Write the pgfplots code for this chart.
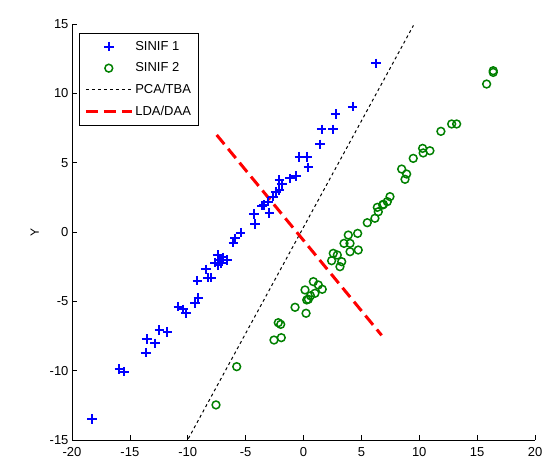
\documentclass[border=0pt]{standalone}
\usepackage{fontspec}
\setmainfont{Liberation Sans}
\usepackage{pgfplots}
\pgfplotsset{compat=1.18}
\definecolor{mgreen}{RGB}{0,128,0}
\begin{document}
\begin{tikzpicture}
\begin{axis}[
  scale only axis, width=463pt, height=416pt,
  xmin=-20, xmax=20, ymin=-15, ymax=15,
  axis lines=left, axis line style={-, line width=0.6pt},
  tick align=inside, major tick length=5pt,
  tick style={line width=0.6pt, black},
  xtick={-20,-15,...,20}, ytick={-15,-10,...,15},
  /pgf/number format/assume math mode=true,
  tick label style={font=\fontsize{13}{15}\selectfont},
  xticklabel style={yshift=-4pt},
  ylabel={Y}, ylabel style={font=\fontsize{12}{14}\selectfont, yshift=4pt},
  legend style={at={(0,1)}, anchor=north west, xshift=7pt, yshift=-9pt,
    font=\fontsize{13}{15}\selectfont, draw=black, line width=0.6pt,
    inner xsep=5pt, inner ysep=6pt, row sep=7pt},
  legend cell align=left,
  legend image code/.code={\draw[mark repeat=2,mark phase=2,#1] plot coordinates {(0pt,0pt) (23pt,0pt) (46pt,0pt)};},
]
\addplot[only marks, mark=+, mark size=4.8pt, color=blue, line width=2pt] coordinates {
(-18.26,-13.48) (-15.9,-9.88) (-15.5,-10.07) (-13.63,-8.7) (-13.54,-7.71)
(-12.85,-8.03) (-12.45,-7.07) (-11.76,-7.19) (-10.81,-5.38) (-10.38,-5.58)
(-10.15,-5.86) (-9.37,-5.14) (-9.08,-4.78) (-9.17,-3.51) (-8.42,-2.69)
(-8.27,-3.29) (-7.99,-3.29) (-7.41,-1.66) (-7.36,-2.38) (-7.64,-2.21)
(-7.3,-2.02) (-6.92,-1.83) (-6.63,-2.02) (-7.1,-2.25) (-6.06,-0.77)
(-5.91,-0.46) (-5.43,-0.05) (-4.27,1.30) (-4.19,0.58) (-3.39,1.95)
(-2.95,1.39) (-3.04,2.19) (-3.6,1.9) (-2.61,2.55) (-2.37,2.91)
(-2.09,3.03) (-1.88,3.44) (-2.09,3.75) (-1.17,3.87) (-0.65,4.04)
(0.42,4.66) (-0.36,5.43) (0.28,5.43) (1.42,6.32) (1.57,7.4)
(2.57,7.4) (2.78,8.51) (4.25,9.04) (6.26,12.16)
};
\addlegendentry{SINIF 1}
\addplot[only marks, mark=o, mark size=3.9pt, color=mgreen, line width=1.5pt] coordinates {
(-7.56,-12.47) (-5.77,-9.71) (-2.55,-7.79) (-1.92,-7.62) (-2.18,-6.54)
(-1.97,-6.66) (-0.73,-5.43) (0.22,-5.86) (0.28,-4.9) (0.13,-4.18)
(0.42,-4.85) (0.85,-3.58) (0.6,-4.6) (1.28,-3.82) (1.62,-4.13)
(0.99,-4.42) (2.43,-2.07) (2.57,-1.54) (2.92,-1.66) (3.15,-2.5)
(3.3,-2.14) (3.5,-0.82) (3.87,-0.22) (4.02,-0.82) (4.02,-1.42)
(4.68,-0.1) (4.73,-1.3) (5.51,0.67) (6.17,0.99) (6.46,1.46)
(6.38,1.78) (6.84,1.95) (7.24,2.19) (7.47,2.55) (6.9,2.0)
(8.48,4.54) (8.91,4.18) (8.77,3.8) (9.48,5.31) (10.29,6.03)
(10.34,5.7) (10.92,5.86) (11.87,7.26) (12.8,7.79) (13.23,7.79)
(15.82,10.67) (16.39,11.63) (16.39,11.51)
};
\addlegendentry{SINIF 2}
\addplot[black, line width=1pt, dash pattern=on 3pt off 3pt] coordinates {(-9.95,-14.9) (9.5,14.9)};
\addlegendentry{PCA/TBA}
\addplot[red, line width=3pt, dash pattern=on 12pt off 6pt] coordinates {(-7.5,7.0) (6.75,-7.45)};
\addlegendentry{LDA/DAA}
\end{axis}
\pgfresetboundingbox
\path[use as bounding box] ([xshift=-72pt,yshift=-26pt]current axis.south west) rectangle ([xshift=16pt,yshift=24pt]current axis.north east);
\end{tikzpicture}
\end{document}
